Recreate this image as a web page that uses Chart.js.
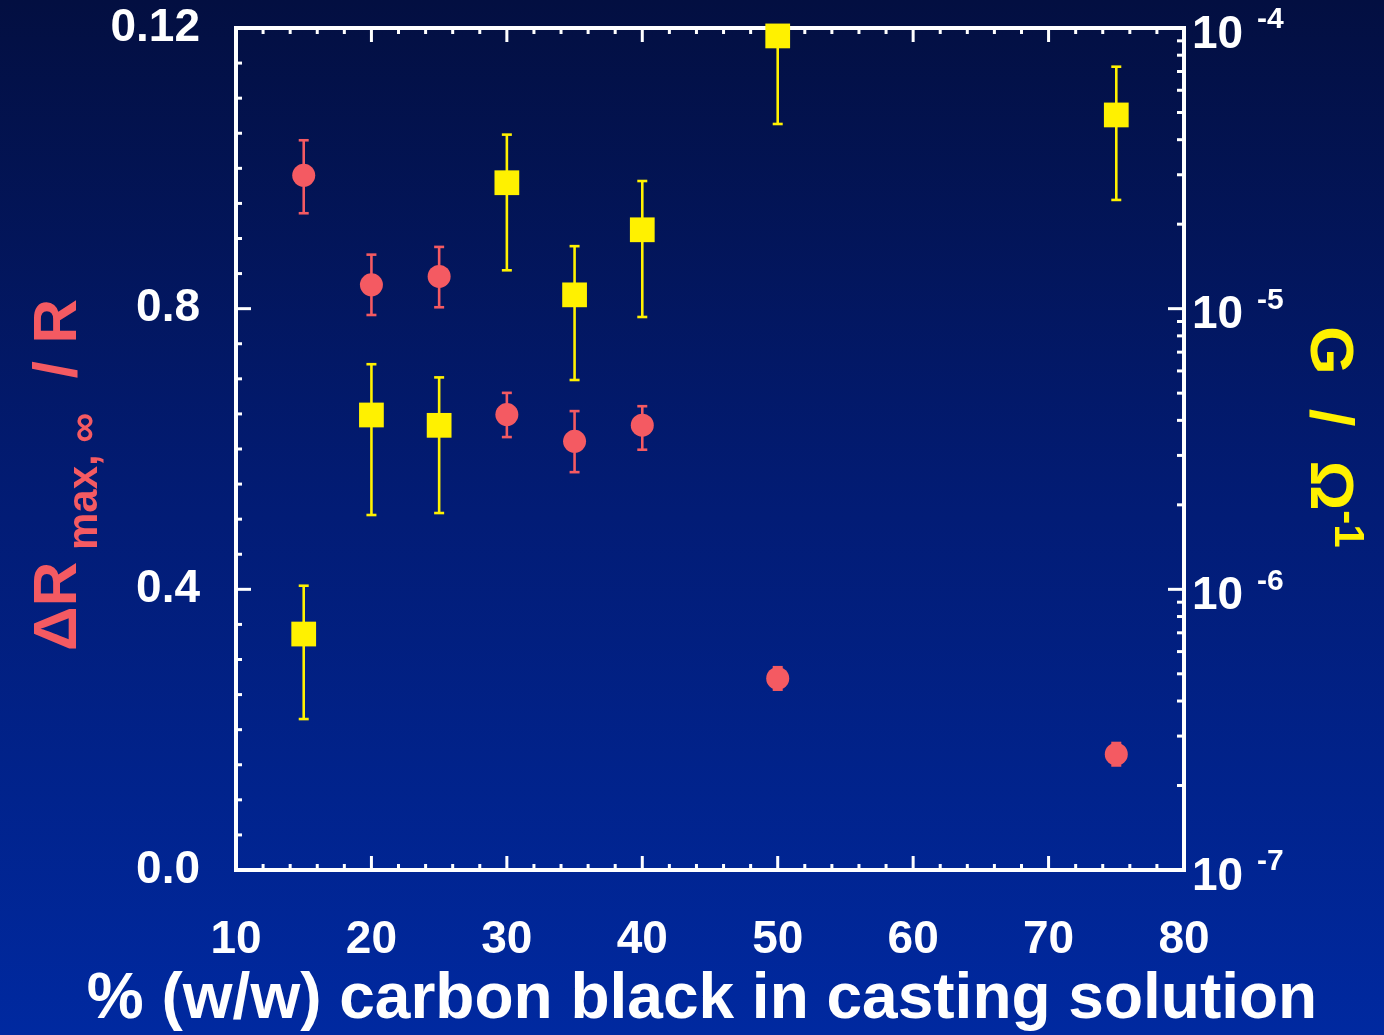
<!DOCTYPE html>
<html>
<head>
<meta charset="utf-8">
<script src="https://cdn.jsdelivr.net/npm/chart.js@4.4.1/dist/chart.umd.min.js"></script>
<style>
  html, body { margin: 0; padding: 0; }
  body {
    width: 1384px; height: 1035px; overflow: hidden;
    background: linear-gradient(to bottom, #030f41 0%, #021c76 50%, #0029a0 100%);
  }
</style>
</head>
<body>
<canvas id="cbChart" width="1384" height="1035"></canvas>
<script>
// carbon black loading (% w/w)
const carbonPct = [15, 20, 25, 30, 35, 40, 50, 75];

// relative response dR(max,inf)/R with error limits
const deltaR     = [0.990, 0.834, 0.846, 0.649, 0.611, 0.634, 0.273, 0.165];
const deltaRLow  = [0.936, 0.791, 0.802, 0.617, 0.567, 0.599, 0.257, 0.149];
const deltaRHigh = [1.040, 0.877, 0.888, 0.680, 0.654, 0.661, 0.289, 0.181];

// film conductance G (ohm^-1) with error limits
const conductance     = [6.93e-7, 4.18e-6, 3.84e-6, 2.81e-5, 1.12e-5, 1.91e-5, 9.37e-5, 4.90e-5];
const conductanceLow  = [3.45e-7, 1.84e-6, 1.87e-6, 1.37e-5, 5.57e-6, 9.34e-6, 4.55e-5, 2.44e-5];
const conductanceHigh = [1.03e-6, 6.34e-6, 5.69e-6, 4.17e-5, 1.67e-5, 2.85e-5, 1.93e-4, 7.28e-5];

// axis ticks
const xTicks = [10, 20, 30, 40, 50, 60, 70, 80];
const leftTicks = [0, 0.4, 0.8, 1.2];
const leftTickLabels = ['0.0', '0.4', '0.8', '0.12'];
const rightTicks = [1e-7, 1e-6, 1e-5, 1e-4];
const rightExponents = ['-7', '-6', '-5', '-4'];

const xTitle = '% (w/w) carbon black in casting solution';

const RED = '#f45a62';
const YELLOW = '#fff100';
const WHITE = '#ffffff';
const FONT = '"Liberation Sans", Arial, sans-serif';

const line = (ctx, x1, y1, x2, y2) => {
  ctx.beginPath();
  ctx.moveTo(x1, y1);
  ctx.lineTo(x2, y2);
  ctx.stroke();
};

function drawErrorBars(ctx, chart, yScale, lo, hi, color) {
  const a = chart.chartArea;
  ctx.save();
  ctx.beginPath();
  ctx.rect(a.left - 20, a.top, a.width + 40, a.height);
  ctx.clip();
  ctx.strokeStyle = color;
  ctx.lineWidth = 2.6;
  carbonPct.forEach((c, i) => {
    const x = chart.scales.x.getPixelForValue(c);
    const y1 = yScale.getPixelForValue(lo[i]);
    const y2 = yScale.getPixelForValue(hi[i]);
    line(ctx, x, y1, x, y2);
    line(ctx, x - 5, y1, x + 5, y1);
    line(ctx, x - 5, y2, x + 5, y2);
  });
  ctx.restore();
}

// draws a run of text pieces (font, baseline shift) centred on the origin
function drawRun(ctx, parts) {
  let total = 0;
  parts.forEach(p => { ctx.font = p[1]; total += ctx.measureText(p[0]).width; });
  let x = -total / 2;
  parts.forEach(p => {
    ctx.font = p[1];
    ctx.fillText(p[0], x, p[2]);
    x += ctx.measureText(p[0]).width;
  });
}

// frame, inward ticks (major + minor) and error bars, under the markers
const frameAndTicks = {
  id: 'frameAndTicks',
  beforeDatasetsDraw(chart) {
    const { ctx, chartArea: a, scales } = chart;
    ctx.save();
    ctx.strokeStyle = WHITE;
    ctx.lineWidth = 3;

    for (let v = 10; v <= 80; v += 2) {
      const px = scales.x.getPixelForValue(v);
      const len = v % 10 === 0 ? 14 : 6;
      line(ctx, px, a.bottom, px, a.bottom - len);
      line(ctx, px, a.top, px, a.top + len);
    }
    for (let i = 0; i <= 24; i++) {
      const py = scales.y.getPixelForValue(i * 0.05);
      const len = i % 8 === 0 ? 15 : 6;
      line(ctx, a.left, py, a.left + len, py);
    }
    for (let e = -7; e <= -4; e++) {
      for (let m = 1; m <= 9; m++) {
        const v = m * Math.pow(10, e);
        if (v > 1.0001e-4) break;
        const py = scales.y2.getPixelForValue(v);
        const len = m === 1 ? 16 : 7;
        line(ctx, a.right, py, a.right - len, py);
      }
    }
    ctx.lineWidth = 4;
    ctx.strokeRect(a.left, a.top, a.width, a.height);
    ctx.restore();

    drawErrorBars(ctx, chart, scales.y2, conductanceLow, conductanceHigh, YELLOW);
    drawErrorBars(ctx, chart, scales.y, deltaRLow, deltaRHigh, RED);
  },
  afterDraw(chart) {
    const { ctx, chartArea: a, scales } = chart;
    ctx.save();

    // right log axis labels: 10 with exponent
    ctx.fillStyle = WHITE;
    ctx.textAlign = 'left';
    ctx.textBaseline = 'middle';
    rightTicks.forEach((v, i) => {
      const py = scales.y2.getPixelForValue(v);
      ctx.font = 'bold 46px ' + FONT;
      ctx.fillText('10', a.right + 8, py + 7);
      ctx.font = 'bold 30px ' + FONT;
      ctx.fillText(rightExponents[i], a.right + 73, py - 8);
    });

    // x axis title
    ctx.textAlign = 'center';
    ctx.textBaseline = 'alphabetic';
    ctx.font = 'bold 64px ' + FONT;
    ctx.fillText(xTitle, 702, 1018);

    ctx.textAlign = 'left';

    // left axis title, rotated, with subscript
    ctx.save();
    ctx.translate(76, 475);
    ctx.rotate(-Math.PI / 2);
    ctx.fillStyle = RED;
    drawRun(ctx, [
      ['\u0394R', 'bold 62px ' + FONT, 0],
      [' max, \u221e', 'bold 42px ' + FONT, 21],
      ['  / R', 'bold 62px ' + FONT, 0]
    ]);
    ctx.restore();

    // right axis title, rotated, with superscript
    ctx.save();
    ctx.translate(1311, 437);
    ctx.rotate(Math.PI / 2);
    ctx.fillStyle = YELLOW;
    drawRun(ctx, [
      ['G  /  \u03a9', 'bold 62px ' + FONT, 0],
      ['-1', 'bold 42px ' + FONT, -24]
    ]);
    ctx.restore();

    ctx.restore();
  }
};

const noEdgePadding = s => { s.paddingTop = 0; s.paddingBottom = 0; s.paddingLeft = 0; s.paddingRight = 0; };

new Chart(document.getElementById('cbChart').getContext('2d'), {
  type: 'scatter',
  data: {
    datasets: [
      {
        label: 'dR/R',
        data: carbonPct.map((c, i) => ({ x: c, y: deltaR[i] })),
        yAxisID: 'y',
        pointStyle: 'circle',
        pointRadius: 11.5,
        backgroundColor: RED,
        borderWidth: 0,
        clip: false
      },
      {
        label: 'G',
        data: carbonPct.map((c, i) => ({ x: c, y: conductance[i] })),
        yAxisID: 'y2',
        pointStyle: 'rect',
        pointRadius: 17.5,
        backgroundColor: YELLOW,
        borderWidth: 0,
        clip: false
      }
    ]
  },
  options: {
    responsive: false,
    animation: false,
    devicePixelRatio: 1,
    layout: { padding: { top: 28, left: 0, right: 0, bottom: 0 } },
    plugins: { legend: { display: false }, tooltip: { enabled: false } },
    scales: {
      x: {
        type: 'linear',
        min: 10,
        max: 80,
        afterBuildTicks: s => { s.ticks = xTicks.map(v => ({ value: v })); },
        afterFit: s => { s.height = 165; noEdgePadding(s); },
        grid: { display: false },
        border: { display: false },
        ticks: { color: WHITE, font: { family: FONT, size: 46, weight: 'bold' }, padding: 35, maxRotation: 0 }
      },
      y: {
        type: 'linear',
        position: 'left',
        min: 0,
        max: 1.2,
        afterBuildTicks: s => { s.ticks = leftTicks.map(v => ({ value: v })); },
        afterFit: s => { s.width = 236; noEdgePadding(s); },
        grid: { display: false },
        border: { display: false },
        ticks: {
          color: WHITE,
          font: { family: FONT, size: 46, weight: 'bold' },
          padding: 28,
          callback: (v, i) => leftTickLabels[i]
        }
      },
      y2: {
        type: 'logarithmic',
        position: 'right',
        min: 1e-7,
        max: 1e-4,
        afterFit: s => { s.width = 200; noEdgePadding(s); },
        grid: { display: false },
        border: { display: false },
        ticks: { display: false }
      }
    }
  },
  plugins: [frameAndTicks]
});
</script>
</body>
</html>
